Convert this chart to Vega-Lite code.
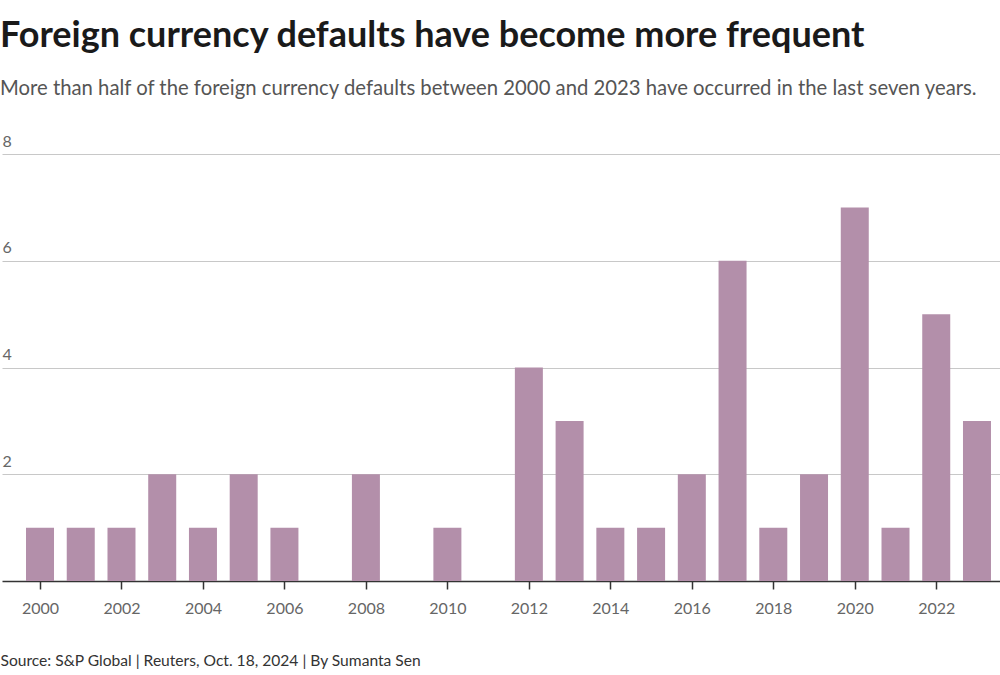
{
  "$schema": "https://vega.github.io/schema/vega-lite/v6.json",
  "width": 998,
  "height": 427,
  "autosize": {"type": "none"},
  "padding": {"left": 2, "top": 154, "right": 0, "bottom": 94},
  "background": "white",
  "title": {
    "text": "Foreign currency defaults have become more frequent",
    "subtitle": "More than half of the foreign currency defaults between 2000 and 2023 have occurred in the last seven years.",
    "anchor": "start",
    "frame": "group",
    "font": "Lato",
    "fontSize": 36,
    "fontWeight": "bold",
    "color": "#1a1a1a",
    "subtitleFont": "Lato",
    "subtitleFontSize": 20.3,
    "subtitleColor": "#555555",
    "subtitlePadding": 24,
    "offset": 33,
    "dx": -2
  },
  "data": {
    "values": [
      {"year": 2000, "defaults": 1},
      {"year": 2001, "defaults": 1},
      {"year": 2002, "defaults": 1},
      {"year": 2003, "defaults": 2},
      {"year": 2004, "defaults": 1},
      {"year": 2005, "defaults": 2},
      {"year": 2006, "defaults": 1},
      {"year": 2007, "defaults": 0},
      {"year": 2008, "defaults": 2},
      {"year": 2009, "defaults": 0},
      {"year": 2010, "defaults": 1},
      {"year": 2011, "defaults": 0},
      {"year": 2012, "defaults": 4},
      {"year": 2013, "defaults": 3},
      {"year": 2014, "defaults": 1},
      {"year": 2015, "defaults": 1},
      {"year": 2016, "defaults": 2},
      {"year": 2017, "defaults": 6},
      {"year": 2018, "defaults": 1},
      {"year": 2019, "defaults": 2},
      {"year": 2020, "defaults": 7},
      {"year": 2021, "defaults": 1},
      {"year": 2022, "defaults": 5},
      {"year": 2023, "defaults": 3}
    ]
  },
  "mark": {"type": "bar", "width": 28, "color": "#b38faa"},
  "encoding": {
    "x": {
      "field": "year",
      "type": "quantitative",
      "scale": {"domain": [1999.067, 2023.565], "nice": false, "zero": false, "padding": 0},
      "axis": {
        "values": [2000, 2002, 2004, 2006, 2008, 2010, 2012, 2014, 2016, 2018, 2020, 2022],
        "format": "d",
        "grid": false,
        "domain": true,
        "domainColor": "#333333",
        "domainWidth": 1.5,
        "ticks": true,
        "tickColor": "#333333",
        "tickSize": 8,
        "tickWidth": 1.5,
        "labelFont": "Lato",
        "labelFontSize": 16,
        "labelColor": "#666666",
        "labelPadding": 11,
        "title": "Source: S&P Global | Reuters, Oct. 18, 2024 | By Sumanta Sen",
        "titleFont": "Lato",
        "titleFontSize": 15.6,
        "titleFontWeight": "normal",
        "titleColor": "#333333",
        "titleAnchor": "start",
        "titleAlign": "left",
        "titleX": -2,
        "titleY": 84,
        "titleBaseline": "alphabetic"
      }
    },
    "y": {
      "field": "defaults",
      "type": "quantitative",
      "scale": {"domain": [0, 8], "nice": false},
      "axis": {
        "values": [2, 4, 6, 8],
        "title": null,
        "domain": false,
        "ticks": false,
        "grid": true,
        "gridColor": "#c8c8c8",
        "gridWidth": 1,
        "labelAlign": "left",
        "labelBaseline": "bottom",
        "labelPadding": 0,
        "labelOffset": -5,
        "labelFont": "Lato",
        "labelFontSize": 16,
        "labelColor": "#666666"
      }
    }
  },
  "config": {"view": {"stroke": null}}
}
